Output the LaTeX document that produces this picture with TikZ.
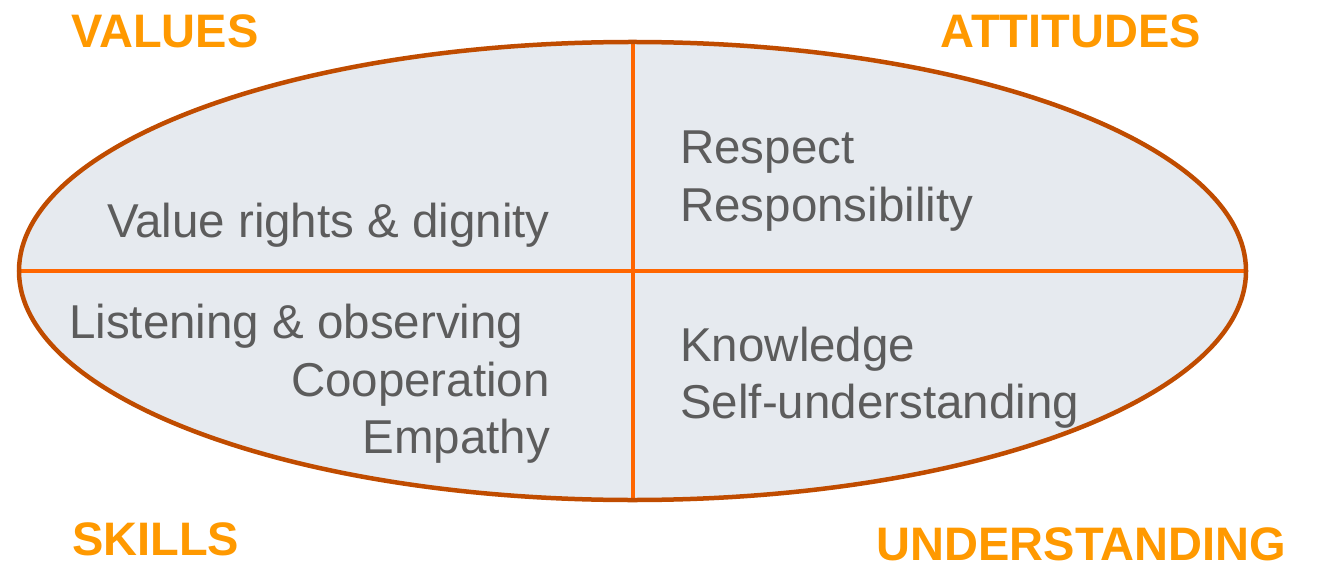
\documentclass[tikz,border=0pt]{standalone}
\usepackage{fontspec}
\setmainfont{Liberation Sans}
\usetikzlibrary{shapes.geometric}
\definecolor{ellfill}{RGB}{230,234,239}
\definecolor{ellborder}{RGB}{192,76,0}
\definecolor{divline}{RGB}{255,102,0}
\definecolor{headorange}{RGB}{255,153,0}
\definecolor{bodygray}{RGB}{92,92,92}
\tikzset{
  heading/.style={font=\fontsize{47bp}{56bp}\selectfont\bfseries, text=headorange, inner sep=0pt},
  bodytext/.style={font=\fontsize{47.5bp}{57bp}\selectfont, text=bodygray, inner sep=0pt},
  divider/.style={draw=divline, line width=4bp},
}
\begin{document}
\begin{tikzpicture}[x=1bp,y=-1bp]
\useasboundingbox (0,0) rectangle (1319,566);
\fill[white] (0,0) rectangle (1319,566);
% ellipse
\node[ellipse, fill=ellfill, minimum width=1227bp, minimum height=458bp, inner sep=0pt] (e) at (632.5,271) {};
\draw[divider] (e.north) -- (e.south);
\draw[divider] (e.west) -- (e.east);
\node[ellipse, draw=ellborder, line width=4.5bp, minimum width=1227bp, minimum height=458bp, inner sep=0pt] (eb) at (632.5,271) {};
% headings
\node[heading, anchor=base west] (values) at (71,48) {VALUES};
\node[heading, anchor=base east] (attitudes) at (1201,48) {ATTITUDES};
\node[heading, anchor=base west] (skills) at (72,555) {SKILLS};
\node[heading, anchor=base east] (understanding) at (1286,560) {UNDERSTANDING};
% body texts
\node[bodytext, anchor=base east] (v1) at (550,237) {Value rights \& dignity};
\node[bodytext, anchor=base west] (a1) at (680,164) {Respect};
\node[bodytext, anchor=base west] (a2) at (680,221) {Responsibility};
\node[bodytext, anchor=base west] (s1) at (69,338) {Listening \& observing};
\node[bodytext, anchor=base east] (s2) at (550,396) {Cooperation};
\node[bodytext, anchor=base east] (s3) at (550,453) {Empathy};
\node[bodytext, anchor=base west] (u1) at (680,361) {Knowledge};
\node[bodytext, anchor=base west] (u2) at (680,418) {Self-understanding};
\end{tikzpicture}
\end{document}
